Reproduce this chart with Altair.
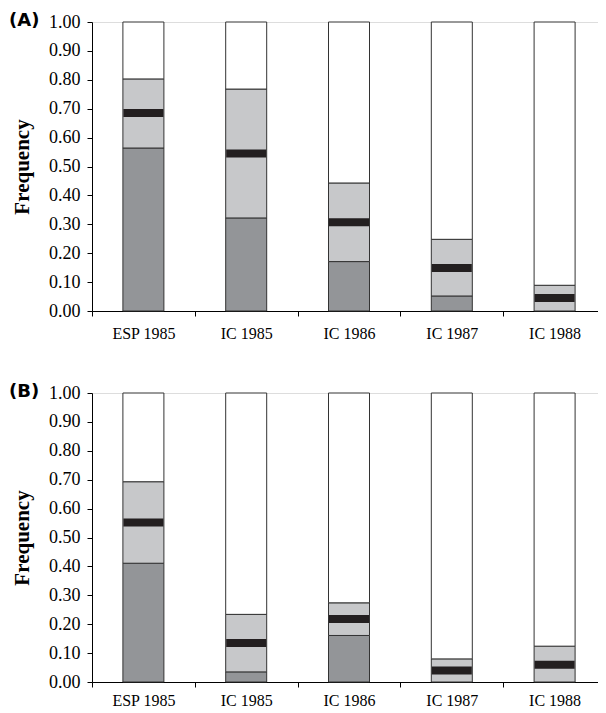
import altair as alt
import pandas as pd

categories = ["ESP 1985", "IC 1985", "IC 1986", "IC 1987", "IC 1988"]

# Panel A
a_dark = [0.564, 0.322, 0.171, 0.052, 0.0]
a_light_top = [0.803, 0.768, 0.443, 0.248, 0.089]
a_marker = [0.685, 0.545, 0.307, 0.149, 0.045]

# Panel B
b_dark = [0.411, 0.035, 0.161, 0.0, 0.0]
b_light_top = [0.693, 0.234, 0.274, 0.080, 0.124]
b_marker = [0.552, 0.135, 0.218, 0.040, 0.060]

y_ticks = [0.0, 0.1, 0.2, 0.3, 0.4, 0.5, 0.6, 0.7, 0.8, 0.9, 1.0]

DARK = "#939598"
LIGHT = "#c7c8ca"
WHITE = "#ffffff"
BLACK = "#231f20"

W = 514
H = 289


def x_axis(lp):
    return alt.Axis(
        title=None,
        labelAngle=0,
        tickBand="extent",
        tickSize=5,
        labelPadding=lp,
        labelFont="Liberation Serif",
        labelFontSize=16,
        labelColor="black",
        domainColor="black",
        tickColor="black",
        grid=False,
    )


Y_AXIS = alt.Axis(
    values=y_ticks,
    format=".2f",
    grid=False,
    tickSize=5,
    labelPadding=7,
    labelOverlap=False,
    labelFlush=False,
    labelFont="Liberation Serif",
    labelFontSize=18,
    labelColor="black",
    domainColor="black",
    tickColor="black",
    title="Frequency",
    titleFont="Liberation Serif",
    titleFontSize=21,
    titleFontWeight="bold",
    titleColor="black",
    titlePadding=16,
)


def panel(label, dark, light_top, marker, lp):
    rows = []
    for c, d, l in zip(categories, dark, light_top):
        rows.append({"cat": c, "y0": 0.0, "y1": d, "col": DARK})
        rows.append({"cat": c, "y0": d, "y1": l, "col": LIGHT})
        rows.append({"cat": c, "y0": l, "y1": 1.0, "col": WHITE})
    seg = pd.DataFrame(rows)
    seg = seg[seg["y1"] > seg["y0"]]
    mk = pd.DataFrame({"cat": categories, "m": marker})

    xscale = alt.Scale(domain=categories, paddingInner=0, paddingOuter=0)
    yscale = alt.Scale(domain=[0, 1], nice=False)
    xa = x_axis(lp)
    bars = alt.Chart(seg).mark_bar(size=41, stroke="#333333", strokeWidth=1).encode(
        x=alt.X("cat:N", scale=xscale, axis=xa),
        y=alt.Y("y0:Q", scale=yscale, axis=Y_AXIS),
        y2="y1:Q",
        color=alt.Color("col:N", scale=None),
    )
    ticks = alt.Chart(mk).mark_tick(thickness=8, size=40, color=BLACK, opacity=1).encode(
        x=alt.X("cat:N", scale=xscale, axis=xa),
        y=alt.Y("m:Q", scale=yscale, axis=Y_AXIS),
    )
    txt = alt.Chart(pd.DataFrame({"t": [label]})).mark_text(
        font="DejaVu Sans",
        fontSize=18,
        fontWeight="bold",
        align="left",
        baseline="top",
        color="black",
    ).encode(x=alt.value(-83), y=alt.value(-10), text="t:N")
    return alt.layer(bars, ticks, txt).properties(width=W, height=H)


chart = alt.vconcat(
    panel("(A)", a_dark, a_light_top, a_marker, 9),
    panel("(B)", b_dark, b_light_top, b_marker, 5),
    spacing=40,
).properties(
    padding={"left": 0, "top": 3, "right": -9, "bottom": 0}
).configure_view(stroke=None).configure(background="white")

chart.save("out.html", embed_options={"renderer": "svg", "actions": False})
